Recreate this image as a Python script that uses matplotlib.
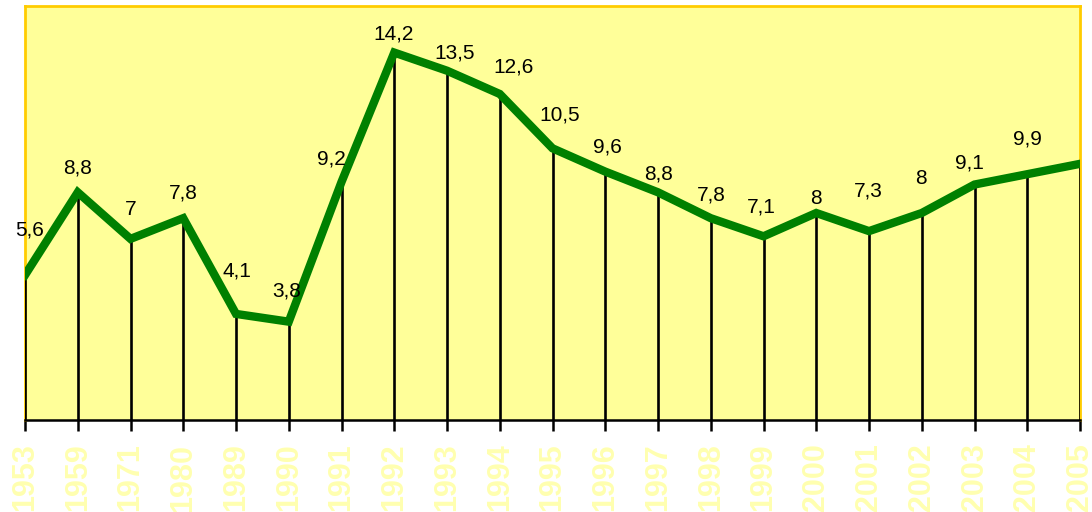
import matplotlib.pyplot as plt
import numpy as np

plt.rcParams['font.family'] = ['Liberation Sans', 'DejaVu Sans']

years = ['1953', '1959', '1971', '1980', '1989', '1990', '1991', '1992', '1993', '1994',
         '1995', '1996', '1997', '1998', '1999', '2000', '2001', '2002', '2003', '2004', '2005']
values = [5.6, 8.8, 7.0, 7.8, 4.1, 3.8, 9.2, 14.2, 13.5, 12.6,
          10.5, 9.6, 8.8, 7.8, 7.1, 8.0, 7.3, 8.0, 9.1, 9.5, 9.9]
labels = ['5,6', '8,8', '7', '7,8', '4,1', '3,8', '9,2', '14,2', '13,5', '12,6',
          '10,5', '9,6', '8,8', '7,8', '7,1', '8', '7,3', '8', '9,1', '9,9', '']

# label nudges in pixels (dx, dy above the point), as placed in the original
label_dx = [5, 0, 0, 0, 1, -2, -10, -1, 8, 14, 7, 2, 1, 1, -2, 0, -1, -1, -5, 0, 0]
label_dy = [45, 24, 29, 25, 43, 31, 23, 19, 18, 27, 33, 25, 18, 23, 29, 14, 40, 35, 22, 35, 0]

x = np.arange(len(years))

fig = plt.figure(figsize=(10.92, 5.12), dpi=100)
ax = fig.add_axes([25 / 1092, 1 - 420 / 512, 1055 / 1092, 414 / 512])
ax.set_facecolor('#FFFF99')

ax.vlines(x, 0, values, color='black', linewidth=1.9, zorder=3)
ax.plot(x, values, color='#008000', linewidth=6, solid_joinstyle='miter', zorder=4)

for xi, v, lab, dx, dy in zip(x, values, labels, label_dx, label_dy):
    if lab:
        ax.annotate(lab, (xi, v), xytext=(dx * 0.72, dy * 0.72), textcoords='offset points',
                    ha='center', va='center', fontsize=15, color='black',
                    annotation_clip=False, zorder=5)

ax.set_xlim(0, len(years) - 1)
ax.set_ylim(0, 16)
ax.set_yticks([])
ax.set_xticks(x)
ax.set_xticklabels(years, rotation=90, fontsize=22, fontweight='bold', color='#FFFFB0')
ax.tick_params(axis='x', length=8, width=1.8, color='black', pad=9)

for side in ['left', 'top', 'right']:
    ax.spines[side].set_color('#FFCC00')
    ax.spines[side].set_linewidth(2)
ax.spines['bottom'].set_color('black')
ax.spines['bottom'].set_linewidth(1.8)

fig.savefig('out.png', dpi=100)
